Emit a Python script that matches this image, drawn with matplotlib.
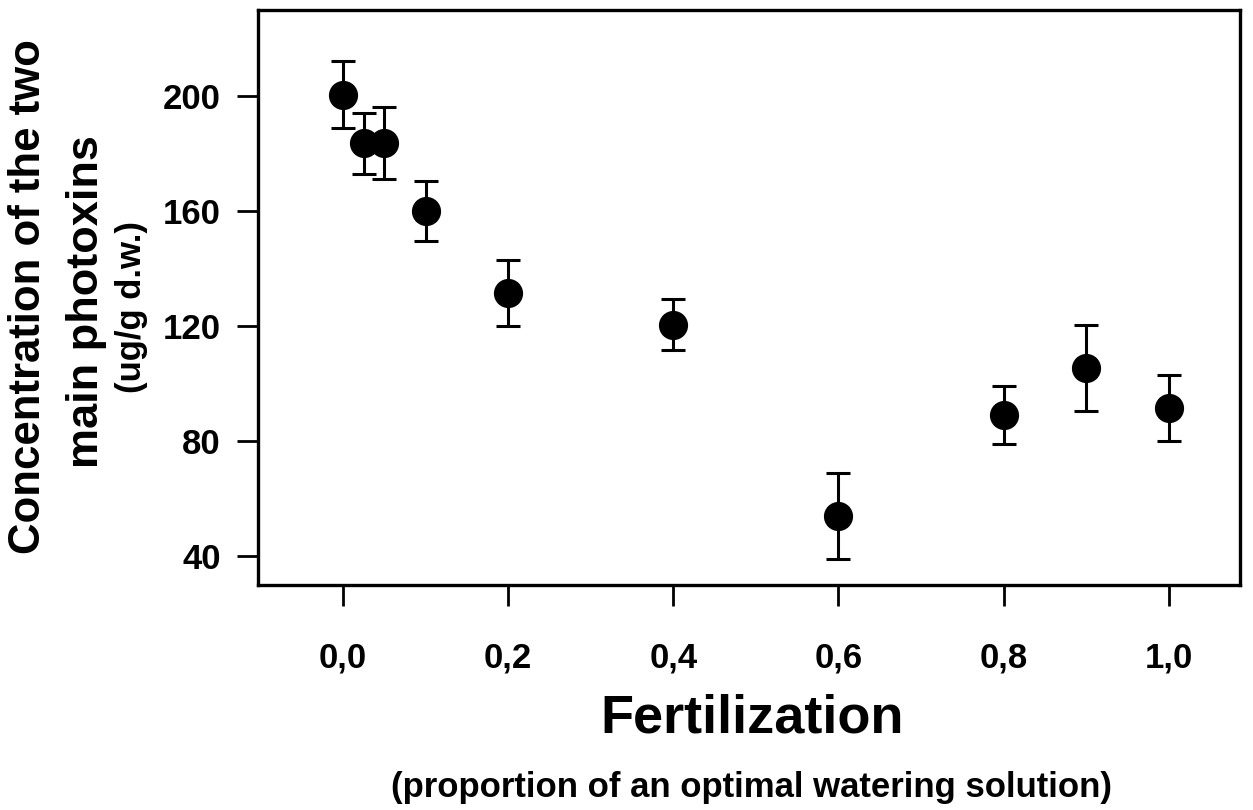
import matplotlib
matplotlib.use("Agg")
import matplotlib.pyplot as plt

# fertilization level (proportion of optimal watering solution)
fert = [0.0, 0.025, 0.05, 0.1, 0.2, 0.4, 0.6, 0.8, 0.9, 1.0]
# concentration of the two main photoxins (ug/g d.w.)
conc = [200.5, 183.5, 183.5, 160.0, 131.5, 120.5, 54.0, 89.0, 105.5, 91.5]
# error bar half-widths
err = [11.5, 10.5, 12.5, 10.5, 11.5, 9.0, 15.0, 10.0, 15.0, 11.5]

xticks = [0.0, 0.2, 0.4, 0.6, 0.8, 1.0]
xticklabels = ["0,0", "0,2", "0,4", "0,6", "0,8", "1,0"]
yticks = [40, 80, 120, 160, 200]

plt.rcParams["font.family"] = ["Liberation Sans", "DejaVu Sans"]
plt.rcParams["font.weight"] = "bold"

fig = plt.figure(figsize=(12.53, 8.1), dpi=100)
ax = fig.add_axes([0.206, 0.278, 0.784, 0.710])

ax.errorbar(fert, conc, yerr=err, fmt="o", color="black", markersize=20,
            elinewidth=2.2, capsize=8.3, capthick=2.2, zorder=3)

ax.set_xlim(-0.103, 1.087)
ax.set_ylim(30, 230)
ax.set_xticks(xticks)
ax.set_xticklabels(xticklabels)
ax.set_yticks(yticks)

for s in ax.spines.values():
    s.set_linewidth(2.4)
ax.tick_params(axis="both", direction="out", length=15, width=2.0,
               labelsize=25)
ax.tick_params(axis="y", pad=12)
ax.tick_params(axis="x", pad=26)
for lab in ax.get_xticklabels() + ax.get_yticklabels():
    lab.set_fontweight("bold")

fig.text(0.600, 0.113, "Fertilization", ha="center", va="center",
         fontsize=39, fontweight="bold")
fig.text(0.600, 0.028, "(proportion of an optimal watering solution)",
         ha="center", va="center", fontsize=25, fontweight="bold")

fig.text(0.023, 0.634, "Concentration of the two", rotation=90,
         ha="center", va="center", fontsize=31.5, fontweight="bold")
fig.text(0.069, 0.628, "main photoxins", rotation=90,
         ha="center", va="center", fontsize=32.5, fontweight="bold")
fig.text(0.105, 0.621, "(ug/g d.w.)", rotation=90,
         ha="center", va="center", fontsize=25, fontweight="bold")

fig.savefig("out.png", dpi=100)
